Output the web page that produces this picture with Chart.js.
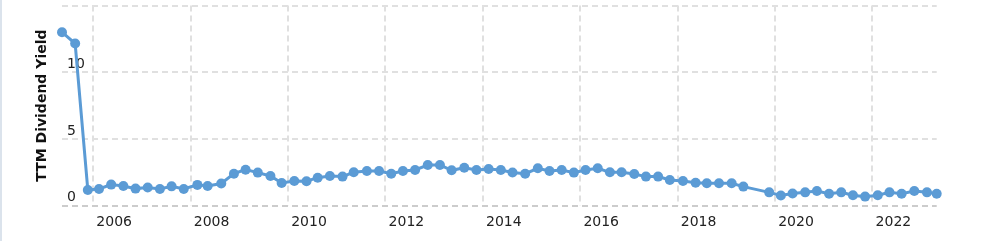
<!DOCTYPE html>
<html>
<head>
<meta charset="utf-8">
<script src="https://cdn.jsdelivr.net/npm/chart.js@4/dist/chart.umd.min.js"></script>
<style>
  html, body { margin:0; padding:0; background:#fff; }
  #wrap { position:relative; width:1000px; height:241px; }
  #edge { position:absolute; left:0; top:0; width:2px; height:241px; background:#dbe3ec; }
</style>
</head>
<body>
<div id="wrap"><canvas id="ch" width="1000" height="241"></canvas><div id="edge"></div></div>
<script>
/* TTM dividend yield, quarterly (decimal year) */
const dates = [
  2005.36, 2005.63, 2005.89, 2006.12, 2006.37, 2006.62, 2006.87, 2007.12, 2007.37, 2007.61,
  2007.86, 2008.14, 2008.35, 2008.63, 2008.89, 2009.13, 2009.38, 2009.64, 2009.87, 2010.13,
  2010.38, 2010.61, 2010.86, 2011.12, 2011.35, 2011.62, 2011.87, 2012.12, 2012.36, 2012.61,
  2012.87, 2013.12, 2013.36, 2013.62, 2013.87, 2014.12, 2014.37, 2014.61, 2014.87, 2015.13,
  2015.37, 2015.62, 2015.87, 2016.11, 2016.36, 2016.61, 2016.85, 2017.11, 2017.35, 2017.60,
  2017.84, 2018.11, 2018.37, 2018.60, 2018.85, 2019.11, 2019.35, 2019.88, 2020.12, 2020.36,
  2020.62, 2020.86, 2021.11, 2021.36, 2021.60, 2021.85, 2022.11, 2022.35, 2022.60, 2022.86,
  2023.12, 2023.32
];
const yieldTTM = [
  13.0, 12.15, 1.18, 1.25, 1.58, 1.48, 1.28, 1.37, 1.25, 1.45,
  1.25, 1.56, 1.48, 1.66, 2.40, 2.70, 2.48, 2.23, 1.70, 1.85,
  1.83, 2.10, 2.23, 2.18, 2.50, 2.60, 2.60, 2.40, 2.60, 2.68,
  3.05, 3.05, 2.65, 2.85, 2.68, 2.75, 2.68, 2.49, 2.40, 2.80,
  2.60, 2.68, 2.48, 2.68, 2.80, 2.50, 2.50, 2.38, 2.18, 2.18,
  1.93, 1.85, 1.72, 1.68, 1.68, 1.68, 1.43, 1.00, 0.77, 0.91,
  1.00, 1.10, 0.90, 1.00, 0.78, 0.68, 0.78, 1.00, 0.90, 1.10,
  1.00, 0.90
];
const xTicks = [2006, 2008, 2010, 2012, 2014, 2016, 2018, 2020, 2022];
const yTicks = [0, 5, 10, 15];

const BLUE = '#5b9bd5';
const GRID = '#e0e0e0';
const DASH = [6, 4];

// dashed grid, drawn from the scales' own ticks
const dashedGrid = {
  id: 'dashedGrid',
  beforeDatasetsDraw(chart) {
    const {ctx, chartArea: a, scales: {x, y}} = chart;
    ctx.save();
    ctx.lineWidth = 2;
    ctx.setLineDash(DASH);
    x.ticks.forEach(t => {
      const px = Math.round(x.getPixelForValue(t.value));
      ctx.strokeStyle = GRID;
      ctx.beginPath(); ctx.moveTo(px, a.top); ctx.lineTo(px, a.bottom); ctx.stroke();
    });
    y.ticks.forEach(t => {
      const py = Math.round(y.getPixelForValue(t.value));
      ctx.strokeStyle = t.value === 0 ? '#cccccc' : GRID;
      ctx.beginPath(); ctx.moveTo(a.left, py); ctx.lineTo(a.right, py); ctx.stroke();
    });
    ctx.restore();
  }
};

new Chart(document.getElementById('ch'), {
  type: 'line',
  data: {
    datasets: [{
      data: dates.map((d, i) => ({x: d, y: yieldTTM[i]})),
      borderColor: BLUE,
      backgroundColor: BLUE,
      borderWidth: 3,
      pointRadius: 5,
      pointBorderWidth: 0,
      pointBackgroundColor: BLUE,
      tension: 0,
      clip: false
    }]
  },
  options: {
    responsive: false,
    animation: false,
    devicePixelRatio: 1,
    layout: { padding: {left: 30, right: 63.3, top: 5.5, bottom: 0} },
    plugins: { legend: {display: false}, tooltip: {enabled: false} },
    scales: {
      x: {
        type: 'linear',
        min: dates[0],
        max: dates[dates.length - 1],
        afterBuildTicks: s => { s.ticks = xTicks.map(v => ({value: v})); },
        afterFit: s => { s.height = 35.3; s.paddingLeft = 0; s.paddingRight = 0; },
        grid: {display: false, drawTicks: false},
        border: {display: false},
        ticks: {
          autoSkip: false, maxRotation: 0, padding: 8, labelOffset: 21,
          color: '#222', font: {family: 'DejaVu Sans', size: 14},
          callback: v => String(v)
        }
      },
      y: {
        min: 0,
        max: 15,
        afterBuildTicks: s => { s.ticks = yTicks.map(v => ({value: v})); },
        afterFit: s => { s.width = 32; s.paddingTop = 0; s.paddingBottom = 0; },
        grid: {display: false, drawTicks: false},
        border: {display: false},
        ticks: {
          mirror: true, padding: 5, labelOffset: -8,
          color: '#222', font: {family: 'DejaVu Sans', size: 14},
          callback: v => v === 15 ? '' : String(v)
        },
        title: {
          display: true, text: 'TTM Dividend Yield', color: '#111',
          font: {family: 'DejaVu Sans', size: 14, weight: 'bold'}
        }
      }
    }
  },
  plugins: [dashedGrid]
});
</script>
</body>
</html>
